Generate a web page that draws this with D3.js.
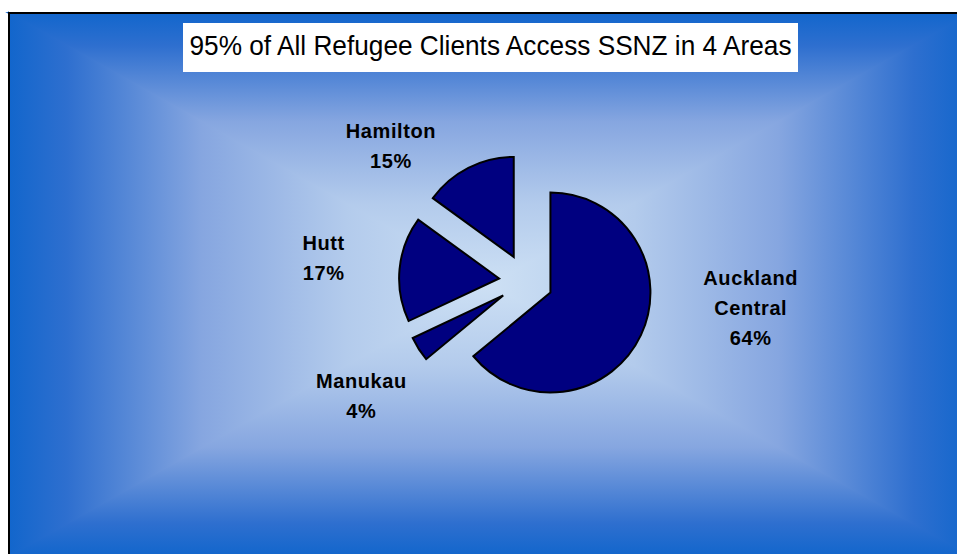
<!DOCTYPE html>
<html>
<head>
<meta charset="utf-8">
<script src="https://cdn.jsdelivr.net/npm/d3@7"></script>
<style>
  body { margin: 0; background: #fff; }
  svg { display: block; }
</style>
</head>
<body>
<div id="chart"></div>
<script>
// Chart data
const titleText = "95% of All Refugee Clients Access SSNZ in 4 Areas";
const areas = ["Auckland Central", "Manukau", "Hutt", "Hamilton"];
const shares = [64, 4, 17, 15];
// label lines (Excel splits long names)
const labelLines = [["Auckland", "Central"], ["Manukau"], ["Hutt"], ["Hamilton"]];
// label nudges from the label arc centroid
const labelNudge = [[89, -37], [-38, 35], [-53, -9], [-67, -1]];

const width = 957, height = 554;

// frame of the chart area (runs off the right/bottom of the window)
const frame = { x0: 9, y0: 13, x1: 971, y1: 556 };
const cx = (frame.x0 + frame.x1) / 2, cy = (frame.y0 + frame.y1) / 2;

const svg = d3.select("#chart").append("svg")
    .attr("width", width)
    .attr("height", height);

const defs = svg.append("defs");

// Excel "from center" rectangular gradient, built from four triangles
const stops = [
    [0, "#1266cc"],
    [0.12, "#2e6fcf"],
    [0.4, "#86a6e0"],
    [0.7, "#b3cbec"],
    [1, "#cde0f4"]
];
const sides = [
    { id: "gTop", pts: [[frame.x0, frame.y0], [frame.x1, frame.y0], [cx, cy]], from: [cx, frame.y0] },
    { id: "gBottom", pts: [[frame.x0, frame.y1], [frame.x1, frame.y1], [cx, cy]], from: [cx, frame.y1] },
    { id: "gLeft", pts: [[frame.x0, frame.y0], [frame.x0, frame.y1], [cx, cy]], from: [frame.x0, cy] },
    { id: "gRight", pts: [[frame.x1, frame.y0], [frame.x1, frame.y1], [cx, cy]], from: [frame.x1, cy] }
];
sides.forEach(s => {
    const g = defs.append("linearGradient")
        .attr("id", s.id)
        .attr("gradientUnits", "userSpaceOnUse")
        .attr("x1", s.from[0]).attr("y1", s.from[1])
        .attr("x2", cx).attr("y2", cy);
    stops.forEach(st => g.append("stop").attr("offset", st[0]).attr("stop-color", st[1]));
});

// base under the triangles so the seams don't show white
svg.append("rect")
    .attr("x", frame.x0)
    .attr("y", frame.y0)
    .attr("width", frame.x1 - frame.x0)
    .attr("height", frame.y1 - frame.y0)
    .attr("fill", "#86a6e0");

svg.selectAll("polygon.bg")
    .data(sides)
    .enter().append("polygon")
    .attr("class", "bg")
    .attr("points", d => d.pts.map(p => p.join(",")).join(" "))
    .attr("fill", d => `url(#${d.id})`)
    .attr("stroke", d => `url(#${d.id})`)
    .attr("stroke-width", 2);

// frame border (top and left visible)
svg.append("rect")
    .attr("x", frame.x0)
    .attr("y", frame.y0)
    .attr("width", frame.x1 - frame.x0)
    .attr("height", frame.y1 - frame.y0)
    .attr("fill", "none")
    .attr("stroke", "#000")
    .attr("stroke-width", 2);

// Title box
svg.append("rect")
    .attr("x", 183)
    .attr("y", 23)
    .attr("width", 615)
    .attr("height", 49)
    .attr("fill", "#fff");

svg.append("text")
    .attr("x", 490.5)
    .attr("y", 55)
    .attr("text-anchor", "middle")
    .attr("font-family", "Liberation Sans, Arial, sans-serif")
    .attr("font-size", "28px")
    .attr("textLength", 602)
    .attr("lengthAdjust", "spacingAndGlyphs")
    .attr("fill", "#000")
    .text(titleText);

// Pie
const radius = 100;
const explode = 27;
const pieCenter = [526, 281];

const pie = d3.pie().value(d => d).sort(null);
const arcs = pie(shares);

const arc = d3.arc().innerRadius(0).outerRadius(radius);
const labelArc = d3.arc().innerRadius(150).outerRadius(150);

const g = svg.append("g")
    .attr("transform", `translate(${pieCenter[0]},${pieCenter[1]})`);

g.selectAll("path")
    .data(arcs)
    .enter().append("path")
    .attr("transform", d => {
        const mid = (d.startAngle + d.endAngle) / 2;
        return `translate(${Math.sin(mid) * explode},${-Math.cos(mid) * explode})`;
    })
    .attr("d", arc)
    .attr("fill", "#000080")
    .attr("stroke", "#000")
    .attr("stroke-width", 2)
    .attr("stroke-linejoin", "miter");

// Data labels: name lines then percentage
const labels = g.selectAll("text.label")
    .data(arcs)
    .enter().append("text")
    .attr("class", "label")
    .attr("text-anchor", "middle")
    .attr("font-family", "Liberation Sans, Arial, sans-serif")
    .attr("font-weight", "bold")
    .attr("font-size", "20px")
    .attr("letter-spacing", "0.6px")
    .attr("fill", "#000");

labels.each(function(d, i) {
    const c = labelArc.centroid(d);
    const x = c[0] + labelNudge[i][0];
    const y = c[1] + labelNudge[i][1];
    const lines = labelLines[i].concat([`${shares[i]}%`]);
    const lineH = 30;
    const top = y - (lines.length - 1) * lineH / 2;
    d3.select(this).selectAll("tspan")
        .data(lines)
        .enter().append("tspan")
        .attr("x", x)
        .attr("y", (t, k) => top + k * lineH + 7)
        .text(t => t);
});
</script>
</body>
</html>
